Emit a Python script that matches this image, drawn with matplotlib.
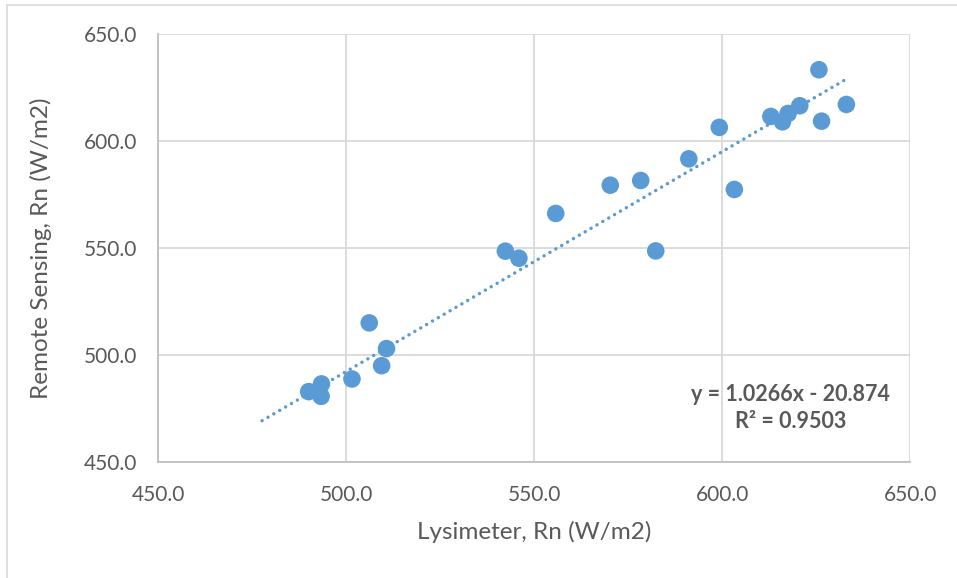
import matplotlib
matplotlib.use("Agg")
import matplotlib.pyplot as plt
from matplotlib.lines import Line2D
import numpy as np

lysimeter = [490.0, 493.4, 493.3, 501.5, 506.1, 510.7, 509.4, 542.3, 545.9, 555.7,
             570.2, 578.3, 582.3, 591.1, 599.2, 603.2, 612.9, 616.0, 617.5, 620.6,
             625.7, 626.4, 633.0]
remote = [483.0, 486.6, 480.8, 488.9, 515.1, 503.1, 495.1, 548.6, 545.3, 566.2,
          579.4, 581.6, 548.7, 591.7, 606.4, 577.4, 611.5, 609.0, 612.9, 616.5,
          633.3, 609.3, 617.1]
slope, intercept = 1.0266, -20.874
trend_x = [477.6, 633.0]
ticks = [450.0, 500.0, 550.0, 600.0, 650.0]

plt.rcParams['font.family'] = ['Lato', 'DejaVu Sans']
fig = plt.figure(figsize=(9.57, 5.78), dpi=100)
ax = fig.add_axes([158.3/957, 1-462.3/578, (910.3-158.3)/957, (462.3-34)/578])

color = '#5B9BD5'
tx = np.array(trend_x)
ax.plot(tx, slope*tx + intercept, linestyle=(0, (0.01, 1.95)), color=color, linewidth=2.5,
        dash_capstyle='round', solid_capstyle='round', zorder=2)
ax.scatter(lysimeter, remote, s=160, color=color, edgecolors='none', zorder=3)

ax.set_xlim(450, 650)
ax.set_ylim(450, 650)
ax.set_xticks(ticks)
ax.set_yticks(ticks)
ax.set_xticklabels([f"{t:.1f}" for t in ticks])
ax.set_yticklabels([f"{t:.1f}" for t in ticks])
ax.grid(True, color='#D9D9D9', linewidth=1.3)
ax.set_axisbelow(True)
for s in ['top', 'right']:
    ax.spines[s].set_visible(False)
for s in ['left', 'bottom']:
    ax.spines[s].set_color('#BFBFBF')
    ax.spines[s].set_linewidth(1.3)
ax.tick_params(length=0, labelsize=15, colors='#595959', pad=16)
ax.tick_params(axis='y', pad=15)
ax.set_xlabel('Lysimeter, Rn (W/m2)', fontsize=17.5, color='#595959', labelpad=12)
ax.set_ylabel('Remote Sensing, Rn (W/m2)', fontsize=17.5, color='#595959', labelpad=23)

ax.text(0.841, 0.127, 'y = 1.0266x - 20.874\nR² = 0.9503', transform=ax.transAxes,
        ha='center', va='center', fontsize=15.5, fontweight='bold', color='#595959',
        linespacing=1.4)

fig.add_artist(Line2D([7/957, 7/957], [0, 1-5/578], color='#D9D9D9', linewidth=1.2))
fig.add_artist(Line2D([7/957, 1], [1-5/578, 1-5/578], color='#D9D9D9', linewidth=1.2))

fig.savefig('out.png', dpi=100, facecolor='white')
